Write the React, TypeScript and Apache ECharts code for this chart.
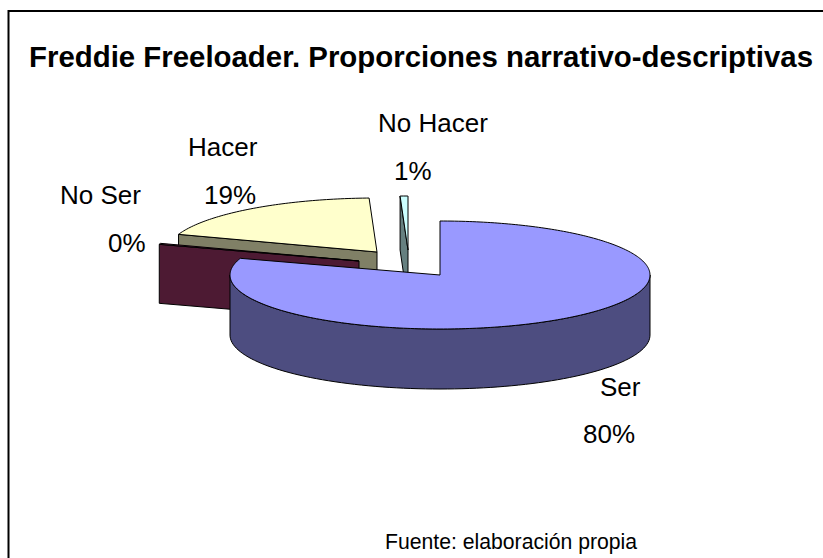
import React, { useEffect, useRef } from "react";
import * as echarts from "echarts";

const categories = ["Ser", "No Ser", "Hacer", "No Hacer"];
const sliceValues = [80, 0.3, 19.1, 0.6];
const percentLabels = ["80%", "0%", "19%", "1%"];
const titleText = "Freddie Freeloader. Proporciones narrativo-descriptivas";
const sourceText = "Fuente: elaboración propia";

const topColors = ["#9999FF", "#993366", "#FFFFCC", "#CCFFFF"];
const wallColors = ["#4D4D80", "#4D1A33", "#808066", "#668080"];
// apex of each slice and its wall depth, in px
const sliceLayout = [
  { cx: 440, cy: 275, depth: 60 },
  { cx: 359, cy: 261, depth: 59 },
  { cx: 377, cy: 252, depth: 56 },
  { cx: 408, cy: 250, depth: 54 },
];
const labelLayout = [
  { x: 600, y1: 396, x2: 583, y2: 443 },
  { x: 60, y1: 204, x2: 108, y2: 252 },
  { x: 188, y1: 156, x2: 204, y2: 204 },
  { x: 378, y1: 132, x2: 394, y2: 180 },
];
const RX = 210;
const RY = 54;
const FONT = '"Liberation Sans", Arial, sans-serif';

function sliceAngles(i: number) {
  const total = sliceValues.reduce((a, b) => a + b, 0);
  let sum = 0;
  for (let k = 0; k < i; k++) sum += sliceValues[k];
  return [(sum / total) * 360, ((sum + sliceValues[i]) / total) * 360];
}

function renderSlice(_params: any, api: any) {
  const i = api.value(0) as number;
  const [a0, a1] = sliceAngles(i);
  const { cx, cy, depth } = sliceLayout[i];
  const pt = (deg: number, dz = 0) => {
    const r = (deg * Math.PI) / 180;
    return [cx + RX * Math.sin(r), cy - RY * Math.cos(r) + dz];
  };
  const line = { stroke: "#000", lineWidth: 1, lineJoin: "round" };
  const children: any[] = [];
  const poly = (points: number[][], fill: string) =>
    children.push({ type: "polygon", shape: { points }, style: { fill, ...line } });

  // radial face at the start of the slice (only if it looks to the viewer)
  if (a0 > 180) {
    poly([[cx, cy], pt(a0), pt(a0, depth), [cx, cy + depth]], wallColors[i]);
  }
  // outer wall, the visible front half
  const from = Math.max(a0, 90);
  const to = Math.min(a1, 270);
  if (to > from) {
    const upper: number[][] = [];
    const lower: number[][] = [];
    for (let d = from; d <= to; d += 2) {
      upper.push(pt(d));
      lower.push(pt(d, depth));
    }
    upper.push(pt(to));
    lower.push(pt(to, depth));
    poly([...upper, ...lower.reverse()], wallColors[i]);
  }
  // top face
  const top: number[][] = [[cx, cy]];
  for (let d = a0; d < a1; d += 1) top.push(pt(d));
  top.push(pt(a1));
  poly(top, topColors[i]);
  return { type: "group", children };
}

// y is the text's baseline
function text(x: number, y: number, t: string, fontSize: number, fontWeight = "normal") {
  return {
    type: "text",
    x,
    y: y - fontSize * 0.355,
    style: { text: t, font: `${fontWeight} ${fontSize}px ${FONT}`, fill: "#000", textVerticalAlign: "middle", textBaseline: "middle", textAlign: "left" },
  };
}

export default function App() {
  const ref = useRef<HTMLDivElement>(null);
  useEffect(() => {
    const chart = echarts.init(ref.current!, undefined, { renderer: "svg" });
    const labels: any[] = [];
    categories.forEach((c, i) => {
      const l = labelLayout[i];
      labels.push(text(l.x, l.y1, c, 26));
      labels.push(text(l.x2, l.y2, percentLabels[i], 26));
    });
    chart.setOption({
      animation: false,
      backgroundColor: "#fff",
      graphic: [
        {
          type: "rect",
          shape: { x: 8.5, y: 11, width: 900, height: 700 },
          style: { fill: "#fff", stroke: "#000", lineWidth: 2 },
          z: -10,
        },
        text(29, 67, titleText, 29.4, "bold"),
        text(385, 549, sourceText, 21.2),
        ...labels,
      ],
      series: [
        {
          type: "custom",
          coordinateSystem: "none",
          renderItem: renderSlice,
          z: 1,
          // drawn from the back of the scene to the front
          data: [3, 2, 1, 0].map((i) => ({ name: categories[i], value: [i, sliceValues[i]] })),
        },
      ],
    });
    return () => chart.dispose();
  }, []);
  return (
    <div
      ref={ref}
      style={{ position: "fixed", left: 0, top: 0, width: 823, height: 558 }}
    />
  );
}
